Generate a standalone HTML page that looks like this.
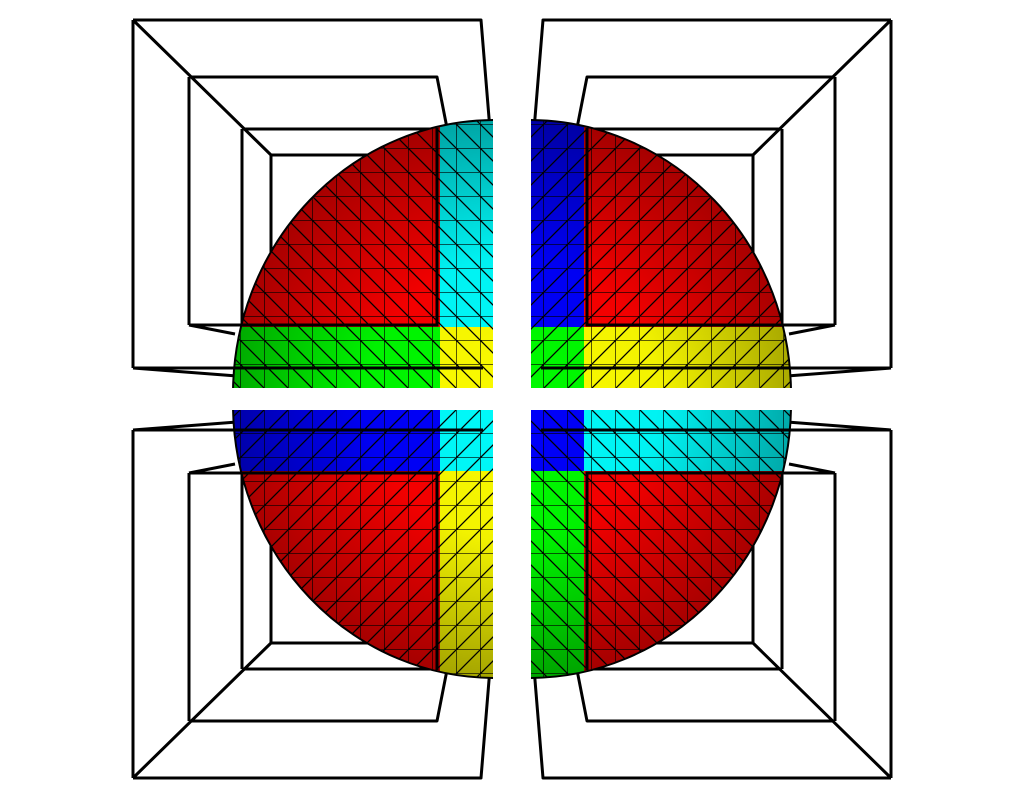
<!DOCTYPE html>
<html><head><meta charset="utf-8"><style>html,body{margin:0;padding:0;background:#fff}svg{display:block}</style></head>
<body>
<svg id="chart" width="1024" height="800" viewBox="0 0 1024 800" xmlns="http://www.w3.org/2000/svg">
<defs>
<pattern id="mesh" patternUnits="userSpaceOnUse" width="24" height="24" x="0" y="4">
<path d="M0 0H24M0 0V24M0 0L24 24" stroke="#000" stroke-width="1.3" fill="none"/>
</pattern>
<radialGradient id="shade" cx="495" cy="392" r="270" fx="560" fy="460" gradientUnits="userSpaceOnUse">
<stop offset="0" stop-color="#000" stop-opacity="0"/>
<stop offset="0.6" stop-color="#000" stop-opacity="0.05"/>
<stop offset="1" stop-color="#000" stop-opacity="0.35"/>
</radialGradient>
</defs>
<g id="root"></g>
</svg>
<script>
// quadrant colour assignments: [main, verticalBand, horizontalBand, corner]
const quadNames = ['top-left','top-right','bottom-left','bottom-right'];
const mainColors = ['#ff0000','#ff0000','#ff0000','#ff0000'];
const vBandColors = ['#00ffff','#0000ff','#ffff00','#00ff00'];
const hBandColors = ['#00ff00','#ffff00','#0000ff','#00ffff'];
const cornerColors = ['#ffff00','#00ff00','#00ffff','#0000ff'];
const transforms = ['', 'translate(1024,0) scale(-1,1)', 'translate(0,798) scale(1,-1)', 'translate(1024,798) scale(-1,-1)'];
const NS='http://www.w3.org/2000/svg';
const root=document.getElementById('root');
function mk(tag,attrs,parent){const e=document.createElementNS(NS,tag);for(const k in attrs)e.setAttribute(k,attrs[k]);parent.appendChild(e);return e;}
const cx=495, cy=394, rx=262, ry=274;
const spherePath=`M${cx} ${cy} L${cx} ${cy-ry} A${rx} ${ry} 0 0 0 ${cx-rx} ${cy} Z`;
quadNames.forEach((n,i)=>{
  const g=mk('g',{transform:transforms[i]},root);
  
  
  const box=mk('g',{fill:'none',stroke:'#000','stroke-width':3,'stroke-linejoin':'round'},g);
  
  
  mk('path',{d:'M133 20H481L490 130M133 20V368M189 77H437L447 128M189 77V325M242 129H440M242 129V340M271 155H440M271 155V340M133 20L271 155M133 368L237 376M189 325L235 334'},box);
  const s=mk('g',{},g);
  
  
  const cp=mk('clipPath',{id:'c'+i},s);
  mk('path',{d:spherePath},cp);
  const cp2=mk('clipPath',{id:'d'+i},s);
  mk('rect',{x:200,y:100,width:293,height:288},cp2);
  const outer=mk('g',{'clip-path':'url(#d'+i+')'},s);
  const body=mk('g',{'clip-path':'url(#c'+i+')'},outer);
  mk('rect',{x:200,y:100,width:300,height:300,fill:mainColors[i]},body);
  mk('rect',{x:440,y:100,width:60,height:300,fill:vBandColors[i]},body);
  mk('rect',{x:200,y:327,width:300,height:70,fill:hBandColors[i]},body);
  mk('rect',{x:440,y:327,width:60,height:70,fill:cornerColors[i]},body);
  mk('rect',{x:200,y:100,width:300,height:300,fill:'url(#mesh)'},body);
  mk('rect',{x:200,y:100,width:300,height:300,fill:'url(#shade)'},body);
  mk('path',{d:spherePath,fill:'none',stroke:'#000','stroke-width':2},outer);
  mk('path',{d:'M437 128V325H189M133 368H483',fill:'none',stroke:'#000','stroke-width':3},g);
});
</script>
</body></html>
